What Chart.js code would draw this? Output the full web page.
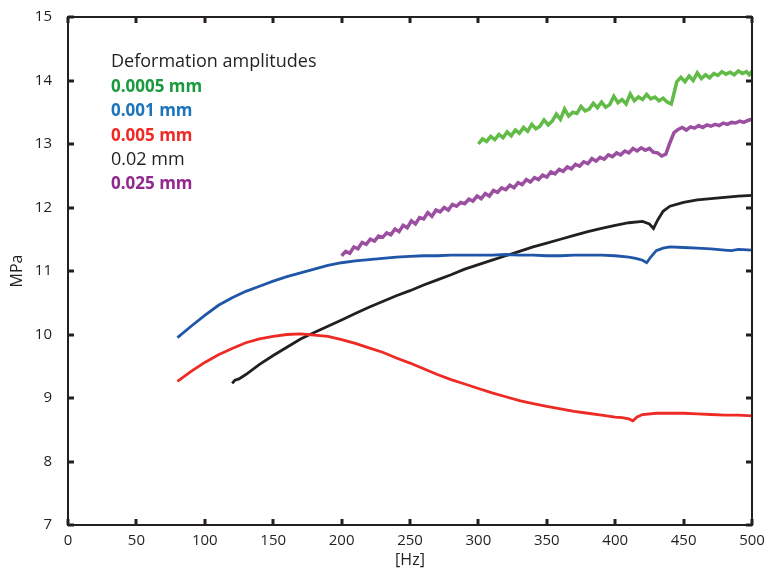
<!DOCTYPE html>
<html>
<head>
<meta charset="utf-8">
<script src="https://cdn.jsdelivr.net/npm/chart.js@4.4.1/dist/chart.umd.min.js"></script>
<style>
  html, body { margin: 0; padding: 0; background: #fff; }
  #wrap { width: 765px; height: 572px; }
</style>
</head>
<body>
<div id="wrap"><canvas id="myChart"></canvas></div>
<script>
// series labels, as printed in the legend block
const seriesNames = ['0.0005 mm', '0.001 mm', '0.005 mm', '0.02 mm', '0.025 mm'];

// 0.0005 mm
const hz0005 = [300,303,306,309,312,315,318,321,324,327,330,333,336,339,342,345,348,351,354,357,360,363,366,369,372,375,378,381,384,387,390,393,396,399,402,405,408,411,414,417,420,423,426,429,432,435,438,441,443,445,448,451,454,457,460,463,466,469,472,475,478,481,484,487,490,493,496,498,500];
const mpa0005 = [13.00,13.08,13.04,13.12,13.07,13.15,13.10,13.19,13.13,13.22,13.17,13.26,13.20,13.31,13.24,13.28,13.38,13.30,13.36,13.47,13.39,13.55,13.44,13.50,13.48,13.59,13.52,13.55,13.64,13.57,13.66,13.58,13.62,13.75,13.65,13.70,13.63,13.79,13.68,13.74,13.70,13.78,13.71,13.74,13.68,13.72,13.66,13.63,13.80,13.98,14.05,13.98,14.07,14.00,14.12,14.03,14.09,14.04,14.11,14.08,14.14,14.10,14.13,14.09,14.15,14.11,14.14,14.09,14.15];

// 0.001 mm
const hz001 = [80,90,100,110,120,130,140,150,160,170,180,190,200,210,220,230,240,250,260,270,280,290,300,310,320,330,340,350,360,370,380,390,400,410,415,420,423,426,430,435,440,450,460,470,480,485,490,500];
const mpa001 = [9.95,10.13,10.30,10.46,10.58,10.68,10.76,10.84,10.91,10.97,11.03,11.09,11.13,11.16,11.18,11.20,11.22,11.23,11.24,11.24,11.25,11.25,11.25,11.25,11.26,11.25,11.25,11.24,11.24,11.25,11.25,11.25,11.24,11.22,11.20,11.17,11.13,11.22,11.32,11.36,11.38,11.37,11.36,11.35,11.33,11.32,11.34,11.33];

// 0.005 mm
const hz005 = [80,90,100,110,120,130,140,150,160,170,180,190,200,210,220,230,240,250,260,270,280,290,300,310,320,330,340,350,360,370,380,390,400,405,410,413,416,420,430,440,450,460,470,480,490,500];
const mpa005 = [9.26,9.42,9.56,9.68,9.78,9.87,9.93,9.97,10.00,10.01,9.99,9.97,9.92,9.86,9.79,9.72,9.63,9.55,9.46,9.37,9.29,9.22,9.15,9.08,9.02,8.96,8.91,8.87,8.83,8.79,8.76,8.73,8.70,8.69,8.67,8.64,8.70,8.74,8.76,8.76,8.76,8.75,8.74,8.73,8.73,8.72];

// 0.02 mm
const hz02 = [120,122,125,130,140,150,160,170,180,190,200,210,220,230,240,250,260,270,280,290,300,310,320,330,340,350,360,370,380,390,400,410,420,425,428,431,435,440,450,460,470,480,490,500];
const mpa02 = [9.23,9.28,9.30,9.37,9.53,9.67,9.80,9.93,10.03,10.13,10.23,10.33,10.43,10.52,10.61,10.69,10.78,10.86,10.94,11.03,11.10,11.17,11.24,11.31,11.38,11.44,11.50,11.56,11.62,11.67,11.72,11.76,11.78,11.74,11.67,11.80,11.94,12.02,12.08,12.12,12.14,12.16,12.18,12.19];

// 0.025 mm
const hz025 = [200,203,206,209,212,215,218,221,224,227,230,233,236,239,242,245,248,251,254,257,260,263,266,269,272,275,278,281,284,287,290,293,296,299,302,305,308,311,314,317,320,323,326,329,332,335,338,341,344,347,350,353,356,359,362,365,368,371,374,377,380,383,386,389,392,395,398,401,404,407,410,413,416,419,422,425,428,431,434,437,440,443,446,449,452,455,458,461,464,467,470,473,476,479,482,485,488,491,494,497,500];
const mpa025 = [11.24,11.31,11.28,11.38,11.35,11.45,11.42,11.50,11.47,11.55,11.53,11.60,11.57,11.66,11.62,11.72,11.68,11.79,11.74,11.84,11.82,11.92,11.86,11.96,11.93,12.00,11.96,12.05,12.02,12.08,12.06,12.13,12.10,12.18,12.14,12.22,12.18,12.27,12.24,12.31,12.28,12.35,12.31,12.39,12.36,12.44,12.40,12.47,12.44,12.51,12.48,12.56,12.53,12.60,12.57,12.64,12.61,12.68,12.65,12.72,12.69,12.77,12.73,12.79,12.76,12.83,12.80,12.86,12.83,12.89,12.86,12.93,12.89,12.94,12.90,12.93,12.87,12.86,12.81,12.84,13.02,13.18,13.23,13.26,13.22,13.27,13.25,13.29,13.26,13.30,13.28,13.31,13.29,13.33,13.31,13.34,13.33,13.36,13.34,13.37,13.39];

const xTicks = [0, 50, 100, 150, 200, 250, 300, 350, 400, 450, 500];
const yTicks = [7, 8, 9, 10, 11, 12, 13, 14, 15];

const INK = '#231f20';
const FONT = '"Open Sans", "Noto Sans", sans-serif';

const toPoints = (xs, ys) => xs.map((x, i) => ({ x: x, y: ys[i] }));

// frame with inward tick marks on all four sides
const frameTicks = {
  id: 'frameTicks',
  afterDatasetsDraw(chart) {
    const { ctx, chartArea: a, scales } = chart;
    const len = 6;
    ctx.save();
    ctx.strokeStyle = INK;
    ctx.lineWidth = 2;
    ctx.strokeRect(a.left, a.top, a.right - a.left, a.bottom - a.top);
    ctx.lineWidth = 3;
    ctx.beginPath();
    for (const v of xTicks) {
      const px = Math.round(scales.x.getPixelForValue(v));
      ctx.moveTo(px, a.bottom); ctx.lineTo(px, a.bottom - len);
      ctx.moveTo(px, a.top); ctx.lineTo(px, a.top + len);
    }
    for (const v of yTicks) {
      const py = Math.round(scales.y.getPixelForValue(v));
      ctx.moveTo(a.left, py); ctx.lineTo(a.left + len, py);
      ctx.moveTo(a.right, py); ctx.lineTo(a.right - len, py);
    }
    ctx.stroke();
    ctx.restore();
  }
};

// the text block in the top-left corner
const labelColors = ['#1a9a3e', '#1b75bc', '#ee2a24', INK, '#92278f'];
const labelBold = [true, true, true, false, true];
const amplitudeLegend = {
  id: 'amplitudeLegend',
  afterDraw(chart) {
    const ctx = chart.ctx;
    ctx.save();
    ctx.textBaseline = 'middle';
    ctx.textAlign = 'left';
    ctx.fillStyle = INK;
    ctx.font = '18px ' + FONT;
    ctx.fillText('Deformation amplitudes', 111, 62);
    seriesNames.forEach((name, i) => {
      ctx.font = (labelBold[i] ? 'bold 17px ' : '18px ') + FONT;
      ctx.fillStyle = labelColors[i];
      ctx.fillText(name, 111, 87 + i * 24.4);
    });
    ctx.restore();
  }
};

const lineColors = ['#62bb47', '#1f56a8', '#ee2a24', INK, '#9b4fa0'];
const lineWidths = [3.5, 2.8, 2.8, 2.8, 3.5];
const allHz = [hz0005, hz001, hz005, hz02, hz025];
const allMpa = [mpa0005, mpa001, mpa005, mpa02, mpa025];

const noPad = (scale) => {
  scale.paddingTop = 0; scale.paddingBottom = 0;
  scale.paddingLeft = 0; scale.paddingRight = 0;
};

const ctx = document.getElementById('myChart');
new Chart(ctx, {
  type: 'line',
  data: {
    datasets: seriesNames.map((name, i) => ({
      label: name,
      data: toPoints(allHz[i], allMpa[i]),
      borderColor: lineColors[i],
      borderWidth: lineWidths[i],
      pointRadius: 0,
      tension: 0,
      fill: false
    }))
  },
  options: {
    responsive: true,
    maintainAspectRatio: false,
    animation: false,
    layout: { padding: { top: 17, right: 13, left: 0, bottom: 0 } },
    plugins: { legend: { display: false }, tooltip: { enabled: false } },
    scales: {
      x: {
        type: 'linear',
        min: 0,
        max: 500,
        afterBuildTicks: (scale) => { scale.ticks = xTicks.map(v => ({ value: v })); },
        afterFit: (scale) => { scale.height = 47; noPad(scale); },
        grid: { display: false, drawTicks: false },
        border: { display: false },
        ticks: { color: INK, padding: 7, maxRotation: 0, font: { family: FONT, size: 15 } },
        title: { display: true, text: '[Hz]', color: INK, padding: { top: 0, bottom: 2 }, font: { family: FONT, size: 16 } }
      },
      y: {
        type: 'linear',
        min: 7,
        max: 15,
        afterBuildTicks: (scale) => { scale.ticks = yTicks.map(v => ({ value: v })); },
        afterFit: (scale) => { scale.width = 68; noPad(scale); },
        grid: { display: false, drawTicks: false },
        border: { display: false },
        ticks: { color: INK, padding: 16, font: { family: FONT, size: 15 } },
        title: { display: true, text: 'MPa', color: INK, padding: { top: 8, bottom: 0 }, font: { family: FONT, size: 16 } }
      }
    }
  },
  plugins: [frameTicks, amplitudeLegend]
});
</script>
</body>
</html>
